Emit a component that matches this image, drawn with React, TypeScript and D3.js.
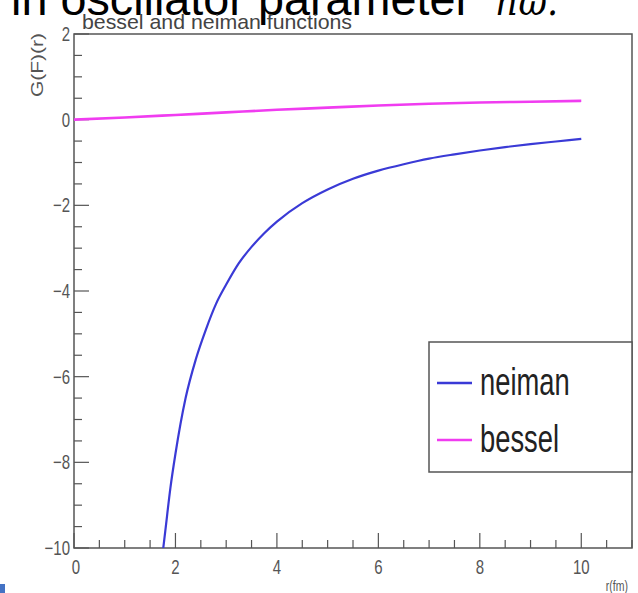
import React from "react";
import * as d3 from "d3";

const besselR = [0, 1, 2, 3, 4, 5, 6, 7, 8, 9, 10];
const besselG = [0, 0.05, 0.11, 0.17, 0.23, 0.28, 0.33, 0.37, 0.4, 0.42, 0.44];

const neimanR = [1.72, 1.76, 1.8, 1.9, 2.0, 2.2, 2.4, 2.6, 2.8, 3.0, 3.25, 3.5, 3.75, 4.0, 4.5, 5.0, 5.5, 6.0, 6.5, 7.0, 7.5, 8.0, 8.5, 9.0, 9.5, 10];
const neimanG = [-10.4, -10.0, -9.6, -8.6, -7.8, -6.5, -5.6, -4.9, -4.3, -3.85, -3.35, -2.97, -2.65, -2.38, -1.95, -1.63, -1.38, -1.19, -1.04, -0.91, -0.81, -0.72, -0.64, -0.57, -0.51, -0.45];

const xMajor = [0, 2, 4, 6, 8, 10];
const yMajor = [2, 0, -2, -4, -6, -8, -10];
const xLabels = ["0", "2", "4", "6", "8", "10"];
const yLabels = ["2", "0", "\u22122", "\u22124", "\u22126", "\u22128", "\u221210"];

const legendNames = ["neiman", "bessel"];
const colors = ["#3a3ad6", "#f03cf0"];

const W = 638, H = 593;
const L = 74, R = 632, T = 34, B = 548;
const font = "'Liberation Sans', Arial, sans-serif";
const gray = "#555";

export default function App() {
  const x = d3.scaleLinear().domain([0, 11]).range([L, R]);
  const y = d3.scaleLinear().domain([-10, 2]).range([B, T]);
  const line = d3
    .line<[number, number]>()
    .x((d) => x(d[0]))
    .y((d) => y(d[1]))
    .curve(d3.curveMonotoneX);
  const bData = besselR.map((r, i) => [r, besselG[i]] as [number, number]);
  const nData = neimanR.map((r, i) => [r, neimanG[i]] as [number, number]);
  const xMinor = d3.range(0, 11.01, 0.5);
  const yMinor = d3.range(-10, 2.01, 0.5);
  const sx = 0.75;

  return (
    <svg width={W} height={H} style={{ position: "absolute", left: 0, top: 0, background: "#fff" }}>
      <defs>
        <clipPath id="plot">
          <rect x={L} y={T} width={R - L} height={B - T} />
        </clipPath>
      </defs>
      <rect x={0} y={0} width={W} height={H} fill="#fff" />
      {/* cut-off top text */}
      <text x={11} y={15} fontFamily={font} fontSize={46} fill="#000" textLength={460} lengthAdjust="spacingAndGlyphs">
        in oscillator parameter
      </text>
      <text x={496} y={15} fontFamily="'DejaVu Serif', serif" fontStyle="italic" fontSize={40} fill="#000" textLength={62} lengthAdjust="spacingAndGlyphs">
        ħω.
      </text>
      {/* title */}
      <text x={82} y={29} fontFamily={font} fontSize={21} fill="#444" textLength={270} lengthAdjust="spacingAndGlyphs">
        bessel and neiman functions
      </text>
      {/* frame */}
      <rect x={L} y={T} width={R - L} height={B - T} fill="none" stroke={gray} strokeWidth={1.5} />
      {/* ticks */}
      {xMinor.map((v) => (
        <line key={"xm" + v} x1={x(v)} x2={x(v)} y1={B} y2={B - (v % 2 === 0 ? 15 : 8)} stroke={gray} strokeWidth={1.2} />
      ))}
      {yMinor.map((v) => (
        <line key={"ym" + v} x1={L} x2={L + (v % 2 === 0 ? 15 : 8)} y1={y(v)} y2={y(v)} stroke={gray} strokeWidth={1.2} />
      ))}
      {xMajor.map((v, i) => (
        <text key={"xl" + v} transform={`translate(${x(v) + (v === 0 ? 2 : 0)},${574}) scale(${sx},1)`} textAnchor="middle" fontFamily={font} fontSize={20} fill={gray}>
          {xLabels[i]}
        </text>
      ))}
      {yMajor.map((v, i) => (
        <text key={"yl" + v} transform={`translate(${70},${y(v) + 7}) scale(${sx},1)`} textAnchor="end" fontFamily={font} fontSize={20} fill={gray}>
          {yLabels[i]}
        </text>
      ))}
      <text transform={`translate(628,591) scale(${sx},1)`} textAnchor="end" fontFamily={font} fontSize={14} fill={gray}>
        r(fm)
      </text>
      <text transform={`translate(43,33) rotate(-90) scale(1,${sx})`} textAnchor="end" fontFamily={font} fontSize={21} fill={gray}>
        G(F)(r)
      </text>
      {/* curves */}
      <g clipPath="url(#plot)">
        <path d={line(nData) || ""} fill="none" stroke={colors[0]} strokeWidth={2.2} />
        <path d={line(bData) || ""} fill="none" stroke={colors[1]} strokeWidth={2.6} />
      </g>
      {/* legend */}
      <rect x={429} y={342} width={R - 429} height={130} fill="#fff" stroke={gray} strokeWidth={1.5} />
      {legendNames.map((n, i) => (
        <g key={n}>
          <line x1={437} x2={472} y1={383 + i * 57} y2={383 + i * 57} stroke={colors[i]} strokeWidth={2.4} />
          <text transform={`translate(480,${395 + i * 57}) scale(0.72,1)`} fontFamily={font} fontSize={38} fill="#222">
            {n}
          </text>
        </g>
      ))}
      {/* blue corner mark */}
      <rect x={0} y={584} width={5} height={9} fill="#4472c4" />
    </svg>
  );
}
